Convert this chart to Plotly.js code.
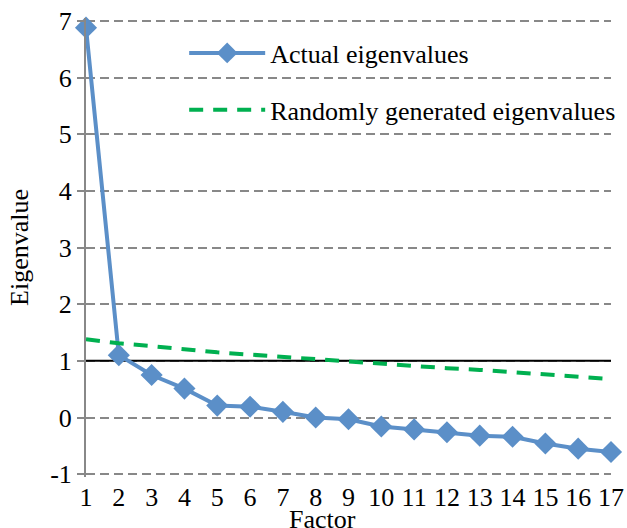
<!DOCTYPE html>
<html>
<head>
<meta charset="utf-8">
<script src="https://cdn.plot.ly/plotly-3.0.1.min.js"></script>
<style>html,body{margin:0;padding:0;background:#fff;}#chart{width:627px;height:528px;}</style>
</head>
<body>
<div id="chart"></div>
<script>
const factors = [1,2,3,4,5,6,7,8,9,10,11,12,13,14,15,16,17];
const actualEigenvalues = [6.88,1.10,0.75,0.51,0.21,0.19,0.10,0.00,-0.03,-0.16,-0.21,-0.26,-0.32,-0.34,-0.46,-0.55,-0.61];
const randomEigenvalues = [1.38,1.31,1.26,1.20,1.15,1.11,1.07,1.03,0.98,0.94,0.91,0.87,0.84,0.80,0.77,0.73,0.68];
const criterionLine = [1,1];
const criterionX = [1,17];
const yTicks = [-1,0,1,2,3,4,5,6,7];

const font = "Liberation Serif";
const traces = [
  {x: criterionX, y: criterionLine, mode: 'lines', line: {color: '#000', width: 2}, showlegend: false, hoverinfo: 'skip'},
  {x: factors, y: actualEigenvalues, name: 'Actual eigenvalues', mode: 'lines+markers',
   line: {color: '#5B8FC8', width: 4}, marker: {symbol: 'diamond', size: 17, color: '#5B8FC8'},
   cliponaxis: false, legendgroup: 'a'},
  {x: factors, y: randomEigenvalues, name: 'Randomly generated eigenvalues', mode: 'lines',
   line: {color: '#00B050', width: 4, dash: '14px,10px'}, legendgroup: 'b'}
];
const layout = {
  width: 627, height: 528,
  margin: {l: 86, r: 16, t: 18, b: 51, autoexpand: false},
  paper_bgcolor: '#fff', plot_bgcolor: '#fff',
  font: {family: font, size: 26, color: '#000'},
  showlegend: true,
  legend: {x: 0.187, y: 0.975, xanchor: 'left', yanchor: 'top', bgcolor: 'rgba(0,0,0,0)',
           font: {family: font, size: 26}, tracegroupgap: 20, traceorder: 'grouped', itemwidth: 76},
  xaxis: {range: [1, 17], tickvals: factors, ticktext: factors.map(String), showgrid: false,
          zeroline: false, showline: false, ticks: '', ticklabelstandoff: 2,
          tickfont: {family: font, size: 26}},
  yaxis: {range: [-1.05, 7.05], tickvals: yTicks, ticktext: yTicks.map(String),
          showgrid: true, gridcolor: '#888', gridwidth: 2, griddash: '9px,5px',
          zeroline: false, showline: true, linecolor: '#888', linewidth: 2,
          ticks: 'outside', ticklen: 7, tickcolor: '#888', tickwidth: 2,
          tickfont: {family: font, size: 26},
          title: {text: 'Eigenvalue', font: {family: font, size: 26}, standoff: 14}},
  annotations: [{text: 'Factor', xref: 'paper', yref: 'paper', x: 0.45, y: 0, yshift: -26,
                 xanchor: 'center', yanchor: 'top', showarrow: false, font: {family: font, size: 26}}]
};
Plotly.newPlot('chart', traces, layout, {displayModeBar: false, staticPlot: true});
</script>
</body>
</html>
